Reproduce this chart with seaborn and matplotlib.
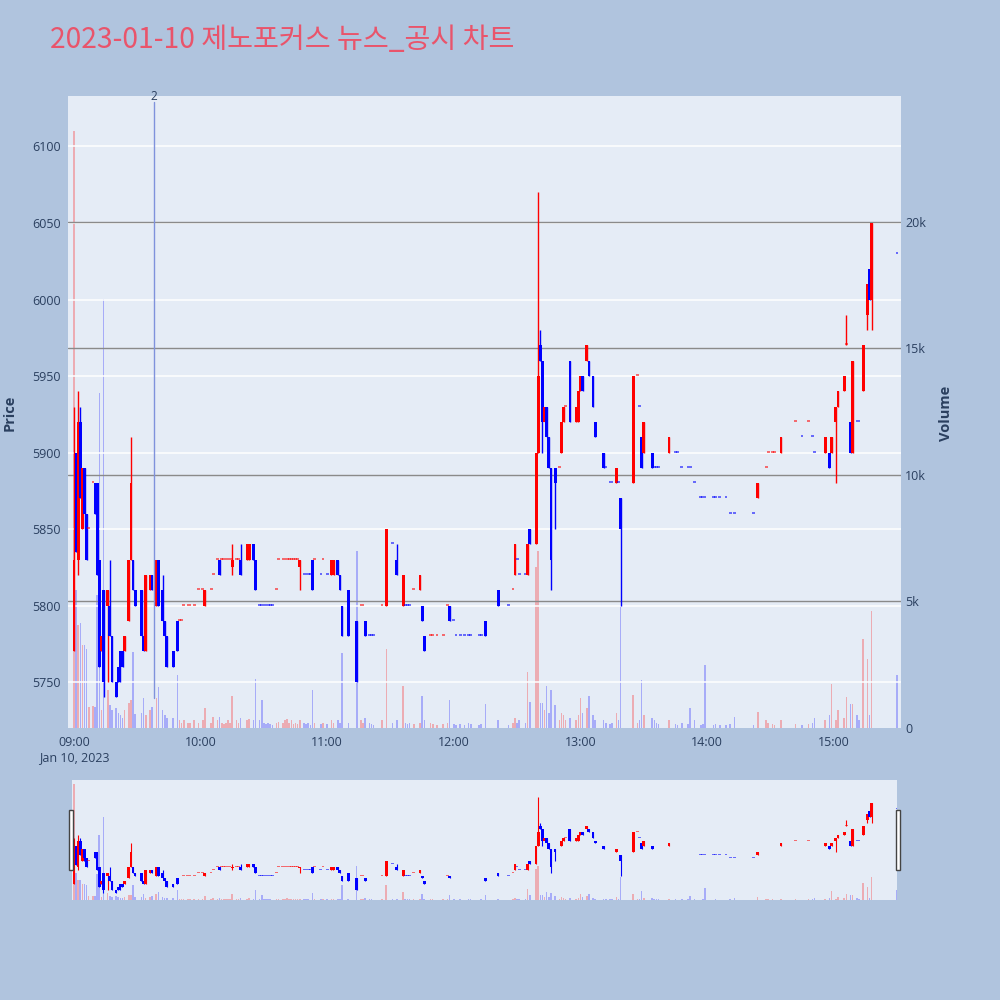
import numpy as np
import pandas as pd
import seaborn as sns
import matplotlib.pyplot as plt
import matplotlib.transforms as mtransforms
from matplotlib.colors import to_rgba
from matplotlib.patches import Rectangle

### 1. Data (1-minute candles)
times = [
    # 09h
    "09:00", "09:01", "09:02", "09:03", "09:04", "09:05", "09:06", "09:07", "09:09", "09:10",
    "09:11", "09:12", "09:13", "09:14", "09:16", "09:17", "09:18", "09:20", "09:21", "09:22",
    "09:23", "09:24", "09:26", "09:27", "09:28", "09:29", "09:32", "09:33", "09:34", "09:36",
    "09:37", "09:39", "09:40", "09:42", "09:43", "09:44", "09:47", "09:49", "09:50", "09:51",
    "09:52", "09:54", "09:55", "09:57", "09:59",
    # 10h
    "10:01", "10:02", "10:05", "10:06", "10:08", "10:09", "10:10", "10:11", "10:12", "10:13",
    "10:14", "10:15", "10:17", "10:18", "10:19", "10:22", "10:23", "10:25", "10:26", "10:28",
    "10:29", "10:30", "10:31", "10:32", "10:33", "10:34", "10:36", "10:37", "10:39", "10:40",
    "10:41", "10:42", "10:43", "10:44", "10:45", "10:46", "10:47", "10:49", "10:50", "10:51",
    "10:52", "10:53", "10:54", "10:57", "10:58",
    # 11h
    "11:00", "11:02", "11:03", "11:05", "11:06", "11:07", "11:10", "11:14", "11:16", "11:17",
    "11:18", "11:20", "11:21", "11:22", "11:26", "11:28", "11:31", "11:33", "11:36", "11:37",
    "11:38", "11:39", "11:41", "11:44", "11:45", "11:46", "11:49", "11:50", "11:52", "11:55",
    "11:57", "11:58",
    # 12h
    "12:00", "12:01", "12:03", "12:05", "12:07", "12:08", "12:12", "12:13", "12:15", "12:21",
    "12:26", "12:28", "12:29", "12:30", "12:31", "12:34", "12:35", "12:36", "12:39", "12:40",
    "12:41", "12:42", "12:43", "12:44", "12:45", "12:46", "12:48", "12:50", "12:51", "12:52",
    "12:53", "12:55", "12:58", "12:59",
    # 13h
    "13:00", "13:01", "13:03", "13:04", "13:06", "13:07", "13:11", "13:12", "13:14", "13:15",
    "13:17", "13:18", "13:19", "13:25", "13:27", "13:28", "13:29", "13:30", "13:34", "13:35",
    "13:36", "13:37", "13:42", "13:45", "13:46", "13:48", "13:51", "13:52", "13:54", "13:57",
    "13:58", "13:59",
    # 14h
    "14:03", "14:04", "14:06", "14:09", "14:11", "14:13", "14:22", "14:24", "14:28", "14:29",
    "14:31", "14:32", "14:35", "14:42", "14:45", "14:48", "14:50", "14:51", "14:56", "14:58",
    "14:59",
    # 15h
    "15:01", "15:02", "15:05", "15:06", "15:08", "15:09", "15:11", "15:12", "15:14", "15:16",
    "15:17", "15:18", "15:30",
]

opens = [
    5770, 5900, 5830, 5920, 5850, 5890, 5860, 5850, 5880, 5880,
    5880, 5830, 5770, 5810, 5800, 5800, 5780, 5750, 5760, 5770,
    5770, 5770, 5790, 5830, 5830, 5810, 5810, 5780, 5770, 5810,
    5820, 5800, 5830, 5810, 5790, 5780, 5770, 5790, 5790, 5790,
    5800, 5800, 5800, 5800, 5810,
    5810, 5800, 5810, 5820, 5830, 5830, 5830, 5830, 5830, 5830,
    5830, 5825, 5830, 5830, 5830, 5830, 5830, 5840, 5830, 5800,
    5800, 5800, 5800, 5800, 5800, 5800, 5810, 5830, 5830, 5830,
    5830, 5830, 5830, 5830, 5830, 5830, 5825, 5820, 5820, 5820,
    5820, 5830, 5830, 5820, 5830,
    5820, 5820, 5820, 5830, 5820, 5800, 5810, 5790, 5800, 5800,
    5790, 5780, 5780, 5780, 5800, 5800, 5840, 5830, 5800, 5800,
    5800, 5800, 5810, 5810, 5800, 5780, 5780, 5780, 5780, 5780,
    5800, 5800,
    5790, 5780, 5780, 5780, 5780, 5780, 5780, 5780, 5790, 5810,
    5800, 5810, 5820, 5830, 5820, 5820, 5820, 5850, 5840, 5900,
    5970, 5960, 5920, 5930, 5910, 5890, 5890, 5890, 5900, 5920,
    5930, 5960, 5920, 5920,
    5940, 5950, 5960, 5960, 5950, 5920, 5900, 5890, 5880, 5880,
    5880, 5880, 5870, 5880, 5950, 5930, 5910, 5900, 5900, 5890,
    5890, 5890, 5900, 5900, 5900, 5890, 5890, 5890, 5880, 5870,
    5870, 5870,
    5870, 5870, 5870, 5870, 5860, 5860, 5860, 5870, 5890, 5900,
    5900, 5900, 5900, 5920, 5910, 5920, 5910, 5900, 5900, 5900,
    5900,
    5920, 5930, 5940, 5970, 5920, 5900, 5920, 5920, 5940, 5990,
    6020, 6000, 6030,
]

highs = [
    5930, 5900, 5940, 5930, 5890, 5890, 5860, 5850, 5880, 5880,
    5880, 5830, 5780, 5810, 5810, 5830, 5780, 5750, 5760, 5770,
    5770, 5780, 5830, 5910, 5830, 5810, 5810, 5780, 5820, 5820,
    5820, 5830, 5830, 5820, 5790, 5780, 5770, 5790, 5790, 5790,
    5800, 5800, 5800, 5800, 5810,
    5810, 5810, 5810, 5820, 5830, 5830, 5830, 5830, 5830, 5830,
    5830, 5840, 5830, 5830, 5840, 5840, 5840, 5840, 5830, 5800,
    5800, 5800, 5800, 5800, 5800, 5800, 5810, 5830, 5830, 5830,
    5830, 5830, 5830, 5830, 5830, 5830, 5830, 5820, 5820, 5820,
    5820, 5830, 5830, 5820, 5830,
    5820, 5830, 5830, 5830, 5820, 5800, 5810, 5790, 5800, 5800,
    5790, 5780, 5780, 5780, 5800, 5850, 5840, 5840, 5820, 5800,
    5800, 5800, 5810, 5820, 5800, 5780, 5780, 5780, 5780, 5780,
    5800, 5800,
    5790, 5780, 5780, 5780, 5780, 5780, 5780, 5780, 5790, 5810,
    5800, 5810, 5840, 5830, 5820, 5820, 5840, 5850, 5900, 6070,
    5980, 5960, 5930, 5930, 5910, 5890, 5890, 5890, 5920, 5930,
    5930, 5960, 5930, 5940,
    5950, 5950, 5970, 5960, 5950, 5920, 5900, 5890, 5880, 5880,
    5890, 5880, 5870, 5950, 5950, 5930, 5910, 5920, 5900, 5890,
    5890, 5890, 5910, 5900, 5900, 5890, 5890, 5890, 5880, 5870,
    5870, 5870,
    5870, 5870, 5870, 5870, 5860, 5860, 5860, 5880, 5890, 5900,
    5900, 5900, 5910, 5920, 5910, 5920, 5910, 5900, 5910, 5900,
    5910,
    5930, 5940, 5950, 5990, 5920, 5960, 5920, 5920, 5970, 6010,
    6020, 6050, 6030,
]

lows = [
    5770, 5835, 5820, 5870, 5850, 5850, 5830, 5850, 5880, 5860,
    5820, 5760, 5770, 5740, 5750, 5780, 5750, 5740, 5750, 5750,
    5760, 5770, 5790, 5830, 5810, 5800, 5780, 5770, 5770, 5810,
    5810, 5800, 5800, 5790, 5780, 5760, 5760, 5770, 5790, 5790,
    5800, 5800, 5800, 5800, 5810,
    5810, 5800, 5810, 5820, 5830, 5820, 5830, 5830, 5830, 5830,
    5830, 5820, 5830, 5830, 5820, 5830, 5830, 5830, 5810, 5800,
    5800, 5800, 5800, 5800, 5800, 5800, 5810, 5830, 5830, 5830,
    5830, 5830, 5830, 5830, 5830, 5830, 5810, 5820, 5820, 5820,
    5820, 5810, 5830, 5820, 5830,
    5820, 5820, 5820, 5820, 5810, 5780, 5780, 5750, 5800, 5800,
    5780, 5780, 5780, 5780, 5800, 5800, 5840, 5820, 5800, 5800,
    5800, 5800, 5810, 5810, 5790, 5770, 5780, 5780, 5780, 5780,
    5800, 5790,
    5790, 5780, 5780, 5780, 5780, 5780, 5780, 5780, 5780, 5800,
    5800, 5810, 5820, 5830, 5820, 5820, 5820, 5840, 5840, 5900,
    5960, 5900, 5920, 5910, 5890, 5810, 5850, 5890, 5900, 5920,
    5930, 5920, 5920, 5920,
    5940, 5940, 5960, 5950, 5930, 5910, 5890, 5890, 5880, 5880,
    5880, 5880, 5800, 5880, 5950, 5930, 5890, 5900, 5890, 5890,
    5890, 5890, 5900, 5900, 5900, 5890, 5890, 5890, 5880, 5870,
    5870, 5870,
    5870, 5870, 5870, 5870, 5860, 5860, 5860, 5870, 5890, 5900,
    5900, 5900, 5900, 5920, 5910, 5920, 5910, 5900, 5900, 5890,
    5900,
    5880, 5930, 5940, 5970, 5900, 5900, 5920, 5920, 5940, 5980,
    6000, 5980, 6030,
]

closes = [
    5830, 5835, 5920, 5870, 5890, 5860, 5830, 5850, 5880, 5860,
    5820, 5760, 5780, 5750, 5810, 5780, 5750, 5740, 5750, 5760,
    5760, 5780, 5830, 5880, 5810, 5800, 5780, 5770, 5820, 5820,
    5810, 5830, 5800, 5790, 5780, 5760, 5760, 5770, 5790, 5790,
    5800, 5800, 5800, 5800, 5810,
    5810, 5810, 5810, 5820, 5830, 5820, 5830, 5830, 5830, 5830,
    5830, 5830, 5830, 5830, 5820, 5840, 5840, 5830, 5810, 5800,
    5800, 5800, 5800, 5800, 5800, 5800, 5810, 5830, 5830, 5830,
    5830, 5830, 5830, 5830, 5830, 5830, 5830, 5820, 5820, 5820,
    5820, 5810, 5830, 5820, 5830,
    5820, 5830, 5830, 5820, 5810, 5780, 5780, 5750, 5800, 5800,
    5780, 5780, 5780, 5780, 5800, 5850, 5840, 5820, 5820, 5800,
    5800, 5800, 5810, 5820, 5790, 5770, 5780, 5780, 5780, 5780,
    5800, 5790,
    5790, 5780, 5780, 5780, 5780, 5780, 5780, 5780, 5780, 5800,
    5800, 5810, 5840, 5830, 5820, 5820, 5840, 5840, 5900, 5950,
    5960, 5920, 5930, 5910, 5890, 5830, 5880, 5890, 5920, 5930,
    5930, 5920, 5930, 5940,
    5950, 5940, 5970, 5950, 5930, 5910, 5890, 5890, 5880, 5880,
    5890, 5880, 5850, 5950, 5950, 5930, 5890, 5920, 5890, 5890,
    5890, 5890, 5910, 5900, 5900, 5890, 5890, 5890, 5880, 5870,
    5870, 5870,
    5870, 5870, 5870, 5870, 5860, 5860, 5860, 5880, 5890, 5900,
    5900, 5900, 5910, 5920, 5910, 5920, 5910, 5900, 5910, 5890,
    5910,
    5930, 5940, 5950, 5970, 5900, 5960, 5920, 5920, 5970, 6010,
    6000, 6050, 6030,
]

volumes = [
    23600, 5450, 4070, 4150, 3280, 3280, 3120, 830, 850, 830,
    5260, 13240, 700, 16960, 1500, 900, 700, 800, 600, 500,
    400, 710, 975, 1100, 3000, 560, 600, 1190, 500, 710,
    840, 1200, 1620, 700, 500, 400, 400, 2080, 300, 200,
    300, 200, 200, 300, 200,
    300, 800, 200, 450, 300, 450, 200, 150, 200, 300,
    200, 1260, 300, 200, 400, 300, 350, 300, 1940, 300,
    1100, 200, 150, 200, 150, 100, 200, 250, 200, 300,
    350, 200, 300, 150, 200, 150, 300, 200, 150, 200,
    100, 1500, 200, 150, 200,
    150, 300, 200, 300, 200, 2960, 200, 7000, 300, 200,
    400, 200, 150, 100, 300, 3120, 200, 300, 1670, 200,
    150, 200, 150, 200, 1260, 300, 200, 150, 100, 150,
    200, 1100,
    150, 100, 150, 100, 200, 150, 100, 150, 930, 300,
    100, 200, 400, 200, 300, 200, 2230, 1020, 6350, 6990,
    1000, 1000, 700, 1670, 600, 1500, 900, 300, 600, 500,
    300, 400, 300, 500,
    1200, 600, 800, 1260, 500, 300, 300, 200, 150, 200,
    600, 300, 4770, 1290, 200, 300, 1880, 500, 400, 300,
    200, 150, 300, 150, 100, 200, 150, 800, 300, 100,
    150, 2480,
    100, 150, 100, 100, 150, 450, 100, 620, 300, 200,
    150, 100, 300, 150, 100, 150, 200, 400, 300, 500,
    1750,
    300, 700, 400, 1230, 930, 930, 500, 300, 3520, 2720,
    500, 4620, 2100,
]

# news / disclosure marker
event_times = ["09:38"]
event_labels = ["2"]

price_ticks = [5750, 5800, 5850, 5900, 5950, 6000, 6050, 6100]
vol_ticks = [0, 5000, 10000, 15000, 20000]
vol_tick_labels = ["0", "5k", "10k", "15k", "20k"]
hour_labels = ["09:00", "10:00", "11:00", "12:00", "13:00", "14:00", "15:00"]

title = "2023-01-10 제노포커스 뉴스_공시 차트"

### 2. Prepare
def to_minute(s):
    h, m = s.split(":")
    return (int(h) - 9) * 60 + int(m)

df = pd.DataFrame({"time": times, "open": opens, "high": highs,
                   "low": lows, "close": closes, "volume": volumes})
df["minute"] = df["time"].map(to_minute)

# red = up, blue = down; flat candles follow the previous close
ups = []
prev_close, prev_up = None, True
for o, c in zip(df["open"], df["close"]):
    if c > o:
        up = True
    elif c < o:
        up = False
    elif prev_close is not None and c != prev_close:
        up = c > prev_close
    else:
        up = prev_up
    ups.append(up)
    prev_close, prev_up = c, up
df["up"] = ups
df["flat"] = df["open"] == df["close"]

RED, BLUE = "#ff0000", "#0000ff"
base = [RED if u else BLUE for u in df["up"]]
body_col = [to_rgba(c, 0.55 if f else 1.0) for c, f in zip(base, df["flat"])]
vol_col = [to_rgba(c, 0.27) for c in base]

TXT = "#2a3f5f"
BG = "#b0c4de"
PLOT_BG = "#e5ecf6"

sns.set_theme(style="white", rc={"axes.facecolor": PLOT_BG})
plt.rcParams["font.family"] = ["Open Sans", "Noto Sans CJK KR", "DejaVu Sans"]


def draw(ax, axv, wick_lw, dot_h, body_w):
    body_lo = np.minimum(df["open"], df["close"])
    body_h = np.maximum(np.abs(df["close"] - df["open"]), dot_h)
    axv.bar(df["minute"], df["volume"], width=0.75, color=vol_col,
            linewidth=0, zorder=2)
    ax.vlines(df["minute"], df["low"], df["high"], colors=base,
              lw=wick_lw, zorder=3)
    ax.bar(df["minute"], body_h, bottom=body_lo, width=body_w,
           color=body_col, linewidth=0, zorder=4)


def prep(ax, axv):
    ax.set_zorder(axv.get_zorder() + 1)
    ax.patch.set_visible(False)
    axv.patch.set_visible(True)
    axv.set_facecolor(PLOT_BG)
    for a in (ax, axv):
        for s in a.spines.values():
            s.set_visible(False)


### 3. Main chart
fig = plt.figure(figsize=(10, 10), dpi=100, facecolor=BG)
ax = fig.add_axes([0.068, 0.272, 0.833, 0.632])
axv = ax.twinx()
prep(ax, axv)
draw(ax, axv, wick_lw=1.0, dot_h=1.3, body_w=1.3)

ax.set_xlim(-2.84, 391.9)
ax.set_ylim(5720, 6133)
axv.set_ylim(0, 24980)

ax.set_yticks(price_ticks)
ax.set_yticklabels([str(p) for p in price_ticks], fontsize=9, color=TXT)
ax.yaxis.grid(True, color="white", lw=1.1)
ax.xaxis.grid(False)
ax.tick_params(axis="y", length=0, pad=5)

axv.set_yticks(vol_ticks)
axv.set_yticklabels(vol_tick_labels, fontsize=9, color=TXT)
axv.yaxis.grid(False)
axv.tick_params(axis="y", length=0, pad=3)

# volume grid drawn over the white price grid (as in the original)
vgrid = mtransforms.blended_transform_factory(ax.transAxes, axv.transData)
for v in vol_ticks[1:]:
    ax.plot([0, 1], [v, v], transform=vgrid, color="#8a8a8a", lw=1.0, zorder=1.5)

ax.set_xticks([to_minute(h) for h in hour_labels])
ax.set_xticklabels(hour_labels, fontsize=9, color=TXT)
ax.tick_params(axis="x", length=0, pad=6)
trans = mtransforms.blended_transform_factory(ax.transData, ax.transAxes)
ax.text(0, -0.046, "Jan 10, 2023", transform=trans, ha="center", va="center",
        fontsize=9, color=TXT)

for et, lab in zip(event_times, event_labels):
    ex = to_minute(et)
    ax.axvline(ex, ymin=0.047, ymax=0.99, color="#7f92dc", lw=1.0, zorder=5)
    ax.text(ex, 1.0, lab, transform=trans, ha="center", va="center",
            fontsize=8.5, color=TXT)

fig.text(0.05, 0.96, title, fontsize=20.3, color="#e9546b", ha="left",
         va="center", family=["Noto Sans CJK KR", "DejaVu Sans"])
fig.text(0.010, 0.587, "Price", rotation=90, ha="center", va="center",
         fontsize=10.5, fontweight="bold", color=TXT)
fig.text(0.946, 0.587, "Volume", rotation=90, ha="center", va="center",
         fontsize=10.5, fontweight="bold", color=TXT)

### 4. Range slider
axs = fig.add_axes([0.072, 0.10, 0.825, 0.12])
axsv = axs.twinx()
prep(axs, axsv)
draw(axs, axsv, wick_lw=0.8, dot_h=2.5, body_w=1.3)
axs.set_xlim(-0.9, 390)
axs.set_ylim(5716, 6128)
axsv.set_ylim(0, 24400)
for a in (axs, axsv):
    a.set_xticks([])
    a.set_yticks([])
    a.grid(False)

for hx in (0.0685, 0.8955):
    fig.patches.append(Rectangle((hx, 0.13), 0.0045, 0.06, transform=fig.transFigure,
                                 facecolor="white", edgecolor="#444444", lw=1.0,
                                 zorder=10))

fig.savefig("out.png", dpi=100, facecolor=BG)
